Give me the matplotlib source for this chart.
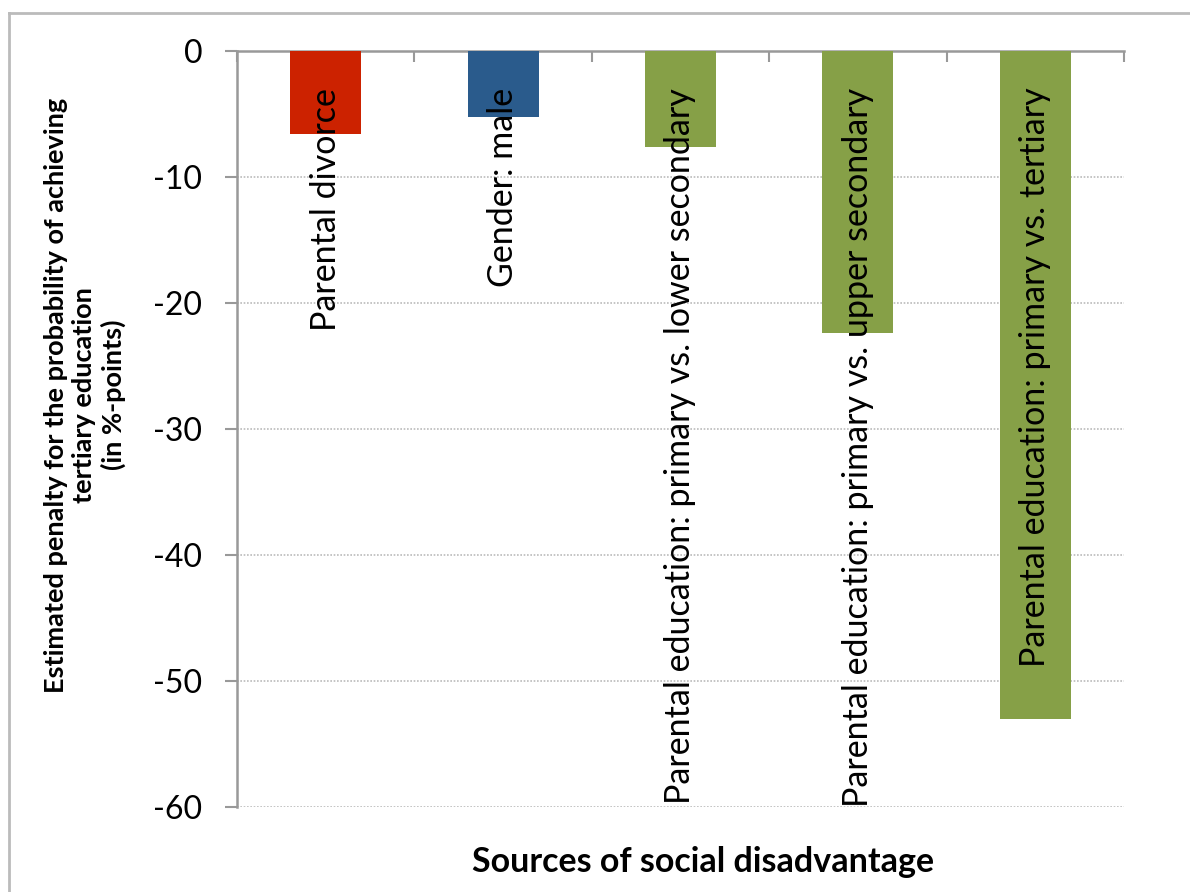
import matplotlib.pyplot as plt
from matplotlib.lines import Line2D

# values
sources = ['Parental divorce', 'Gender: male',
           'Parental education: primary vs. lower secondary',
           'Parental education: primary vs. upper secondary',
           'Parental education: primary vs. tertiary']
penalty = [-6.6, -5.2, -7.6, -22.4, -53.0]
bar_colors = ['#cc2200', '#2a5b8c', '#86a047', '#86a047', '#86a047']
yticks = [0, -10, -20, -30, -40, -50, -60]

plt.rcParams['font.family'] = ['Lato', 'DejaVu Sans']

fig = plt.figure(figsize=(11.9, 8.92), dpi=100)
W, H = 1190, 892
ax = fig.add_axes([237 / W, 1 - 807 / H, (1124 - 237) / W, (807 - 51) / H])

x = range(len(sources))
ax.bar(x, penalty, width=0.4, color=bar_colors, zorder=3)

# labels written inside the bars, top aligned just below the zero line
for i, name in enumerate(sources):
    ax.annotate(name, xy=(i, 0), xytext=(0, -26.5), textcoords='offset points',
                rotation=90, ha='center', va='top', fontsize=24.5, zorder=4)

ax.set_xlim(-0.5, len(sources) - 0.5)
ax.set_ylim(-60, 0)
ax.set_yticks(yticks)
ax.set_yticklabels([str(v) for v in yticks], fontsize=23)
ax.tick_params(axis='y', direction='out', length=9, width=1.5, color='#999999', pad=16)

# category axis sits at the top (value 0), with ticks between the bars
ax.xaxis.tick_top()
ax.set_xticks([i - 0.5 for i in range(len(sources) + 1)])
ax.set_xticklabels([])
ax.tick_params(axis='x', direction='in', length=8, width=1.5, color='#999999')

for v in yticks[1:]:
    ax.axhline(v, color='#bbbbbb', lw=1.2, ls=(0, (1, 1)), zorder=1)

for s in ['right', 'bottom']:
    ax.spines[s].set_visible(False)
for s in ['top', 'left']:
    ax.spines[s].set_color('#999999')
    ax.spines[s].set_linewidth(1.8)

fig.text(85 / W, 1 - 395 / H,
         'Estimated penalty for the probability of achieving\ntertiary education\n(in %-points)',
         rotation=90, ha='center', va='center', fontsize=19.5, fontweight='bold',
         linespacing=1.2)
fig.text(703 / W, 1 - 862 / H, 'Sources of social disadvantage',
         ha='center', va='center', fontsize=24.5, fontweight='bold')

# outer chart frame (only top and left edges are visible in the crop)
fig.add_artist(Line2D([9 / W, 9 / W], [0, 1 - 13 / H], transform=fig.transFigure,
                      color='#bbbbbb', lw=2))
fig.add_artist(Line2D([9 / W, 1], [1 - 13 / H, 1 - 13 / H], transform=fig.transFigure,
                      color='#bbbbbb', lw=2))

fig.savefig('out.png', dpi=100)
